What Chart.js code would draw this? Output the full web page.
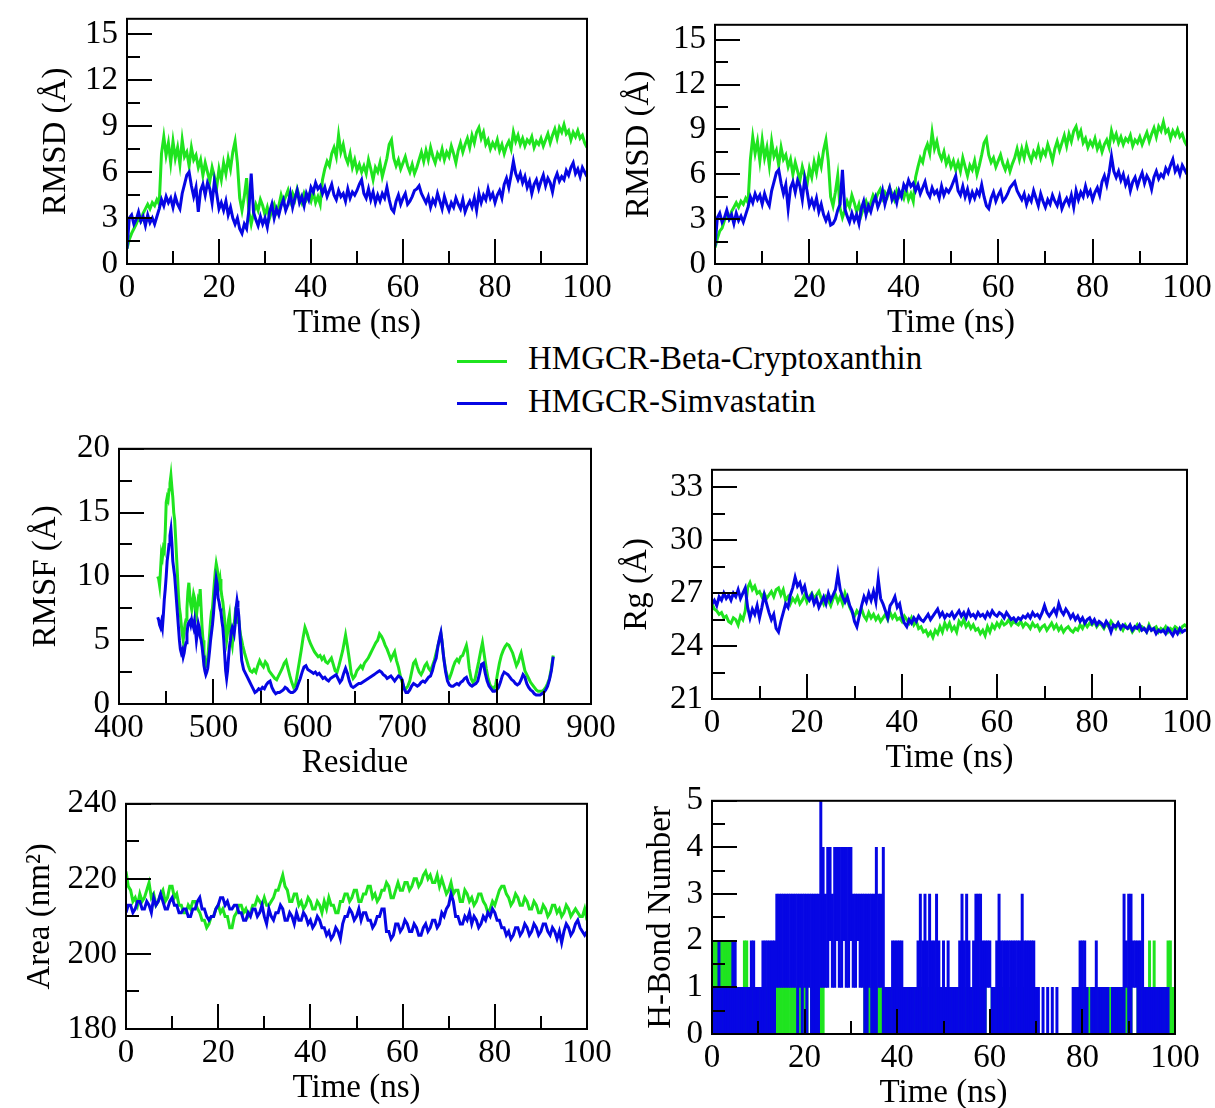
<!DOCTYPE html>
<html><head><meta charset="utf-8">
<script src="https://cdn.jsdelivr.net/npm/chart.js@4/dist/chart.umd.min.js"></script>
<style>
html,body{margin:0;padding:0;background:#fff;}
#wrap{position:relative;width:1215px;height:1108px;overflow:hidden;background:#fff;font-family:'Liberation Serif','Times New Roman',serif;}
canvas{position:absolute;}
.leg{position:absolute;font-size:33px;line-height:33px;color:#000;white-space:nowrap;}
.sw{position:absolute;height:3px;width:50px;}
</style></head>
<body><div id="wrap">
<div class="sw" style="left:457px;top:360px;background:#1fe41f"></div>
<div class="leg" style="left:528px;top:342px">HMGCR-Beta-Cryptoxanthin</div>
<div class="sw" style="left:457px;top:402px;background:#0606e4"></div>
<div class="leg" style="left:528px;top:385px">HMGCR-Simvastatin</div>
</div>
<script>
// ---------- data ----------
const seriesNames = ['HMGCR-Beta-Cryptoxanthin', 'HMGCR-Simvastatin'];

// time grid (ns), 0.5 ns sampling
const timeNs = Array.from({length: 201}, (_, i) => i * 0.5);

const rmsd1Green = [
1.0,1.6,2.0,2.3,2.6,3.0,2.8,3.3,3.6,3.9,
3.6,4.0,3.8,4.2,3.9,7.2,8.3,7.1,7.9,6.6,
8.0,6.9,7.6,6.5,8.1,7.0,7.3,6.4,7.6,6.8,
7.1,6.3,6.8,5.8,6.6,6.0,5.4,6.3,5.7,5.0,
6.2,5.5,6.6,5.9,6.9,6.2,7.3,8.0,6.6,4.3,
3.5,4.4,5.6,3.4,2.6,3.3,3.9,3.5,4.2,3.8,
3.2,3.7,3.0,3.5,3.9,3.4,3.8,4.5,4.0,4.4,
4.8,4.1,4.6,4.2,4.9,4.4,4.0,4.6,4.2,4.5,
4.1,4.7,4.0,4.4,3.9,5.5,6.2,6.7,6.4,7.2,
7.6,7.0,8.4,7.3,7.8,7.0,6.6,7.2,6.3,6.8,
6.1,6.5,6.0,6.4,5.9,6.8,6.2,5.5,6.3,6.0,
6.6,5.7,6.3,6.9,7.8,8.1,6.9,6.4,6.8,6.2,
6.6,7.0,6.4,6.0,6.5,5.9,6.3,6.8,7.3,6.7,
7.4,6.8,7.6,7.0,6.6,7.2,6.9,7.5,6.8,7.3,
7.0,7.7,7.2,6.6,7.4,7.9,7.3,7.8,8.2,7.6,
8.4,7.9,8.6,8.9,8.2,8.6,7.8,8.1,7.5,7.9,
7.6,8.1,7.4,7.8,7.2,7.7,8.0,7.5,8.6,8.0,
8.4,7.8,8.2,7.7,8.1,7.9,8.3,7.6,8.0,7.8,
8.2,7.7,8.1,8.5,7.9,8.4,8.8,8.2,8.9,8.6,
9.1,8.5,8.7,8.1,8.6,8.3,8.7,8.2,8.4,7.9,
7.6];
const rmsd1Blue = [
1.0,3.0,3.2,2.6,2.9,3.4,2.8,3.1,2.5,3.2,
2.7,3.0,2.6,3.1,3.6,4.2,3.8,4.4,4.0,4.3,
3.7,4.4,3.9,3.6,4.6,5.2,5.8,6.0,5.1,4.4,
5.0,3.4,4.8,5.2,4.5,5.3,4.9,4.0,5.4,4.6,
3.6,4.0,3.5,4.1,3.2,3.7,3.0,2.6,3.0,2.3,
2.0,2.6,2.3,3.5,5.9,3.4,2.9,2.5,3.1,2.6,
3.0,2.4,3.4,3.9,3.0,3.6,3.2,3.8,4.2,3.5,
3.9,4.6,3.7,4.3,4.8,4.0,4.4,3.8,4.6,4.2,
5.0,4.7,5.3,4.9,5.1,4.6,5.0,4.4,4.8,5.2,
4.5,4.2,4.8,4.4,4.6,4.1,4.9,4.3,4.7,4.5,
4.8,5.2,5.5,4.6,4.3,4.9,4.2,4.7,4.0,4.5,
4.1,4.6,4.3,5.0,4.2,3.6,3.4,4.1,4.5,3.9,
4.3,4.6,3.9,4.1,4.4,4.8,4.9,5.1,4.6,4.3,
4.0,4.4,3.7,4.2,3.9,4.6,4.1,3.6,4.4,3.9,
3.5,4.0,3.7,4.3,3.9,3.6,4.2,3.4,3.8,4.1,
3.7,4.3,3.5,4.6,4.0,4.5,4.2,4.9,4.3,4.6,
4.0,4.5,4.8,4.3,5.2,5.6,5.0,5.8,6.7,5.9,
5.5,5.9,5.3,5.7,5.0,5.4,4.6,5.2,5.5,4.9,
5.4,5.8,5.1,5.6,5.3,4.7,5.5,5.9,5.4,5.7,
5.5,6.1,5.8,6.3,6.6,5.9,6.2,5.7,6.3,6.0,
5.7];
const rmsd2Green = [
1.1,1.7,2.2,2.4,2.9,3.2,3.0,3.5,3.8,4.1,
3.8,4.2,4.0,4.4,4.1,7.0,8.5,7.4,8.2,6.9,
8.3,7.1,7.8,6.6,8.2,7.2,7.6,6.6,7.8,7.0,
7.3,6.5,7.0,6.0,6.8,6.2,5.6,6.5,5.9,5.3,
6.4,5.8,6.8,6.1,7.1,6.5,7.6,8.3,6.9,4.5,
3.9,4.8,5.9,3.7,3.1,3.6,4.2,3.8,4.6,4.1,
3.5,4.0,3.3,3.8,4.2,3.7,4.1,4.6,4.3,4.7,
5.0,4.4,4.8,4.5,5.1,4.7,4.3,4.9,4.5,4.8,
4.4,5.0,4.3,4.7,4.2,5.8,6.5,7.1,6.8,7.6,
8.0,7.4,8.8,7.7,8.2,7.4,7.0,7.5,6.7,7.1,
6.5,6.9,6.3,6.8,6.2,7.1,6.5,5.9,6.6,6.3,
6.9,6.0,6.6,7.3,8.1,8.4,7.3,6.8,7.1,6.5,
6.9,7.3,6.7,6.3,6.8,6.2,6.7,7.1,7.7,7.0,
7.7,7.1,7.9,7.3,6.9,7.5,7.2,7.8,7.1,7.6,
7.3,8.0,7.5,6.9,7.7,8.2,7.6,8.1,8.6,7.9,
8.7,8.2,8.9,9.2,8.5,8.9,8.1,8.4,7.8,8.2,
7.9,8.4,7.7,8.1,7.5,8.0,8.3,7.8,8.9,8.3,
8.7,8.1,8.5,8.0,8.4,8.2,8.6,7.9,8.3,8.1,
8.5,8.0,8.4,8.8,8.2,8.7,9.1,8.5,9.2,8.9,
9.5,8.8,9.0,8.4,8.9,8.6,9.0,8.5,8.7,8.2,
7.9];
const rmsd2Blue = [
1.2,3.1,3.4,2.8,3.1,3.6,3.0,3.3,2.7,3.4,
2.9,3.2,2.8,3.3,3.8,4.5,4.1,4.7,4.3,4.6,
4.0,4.7,4.2,3.9,4.9,5.5,6.1,6.3,5.4,4.7,
5.3,3.7,5.1,5.5,4.8,5.6,5.2,4.3,5.7,4.9,
3.9,4.3,3.8,4.4,3.5,4.0,3.3,2.9,3.3,2.6,
2.7,3.0,3.6,4.0,6.3,3.7,3.2,2.8,3.4,2.9,
3.3,2.7,3.7,4.2,3.3,3.9,3.5,4.1,4.5,3.8,
4.2,4.9,4.0,4.6,5.1,4.3,4.7,4.1,4.9,4.5,
5.3,5.0,5.6,5.2,5.4,4.9,5.3,4.7,5.1,5.5,
4.8,4.5,5.1,4.7,4.9,4.4,5.2,4.6,5.0,4.8,
5.1,5.5,5.9,4.9,4.6,5.2,4.5,5.0,4.3,4.8,
4.4,4.9,4.6,5.3,4.5,3.9,3.7,4.4,4.8,4.2,
4.6,4.9,4.2,4.4,4.7,5.1,5.3,5.5,4.9,4.6,
4.3,4.7,4.0,4.5,4.2,4.9,4.4,3.9,4.7,4.2,
3.8,4.3,4.0,4.6,4.2,3.9,4.5,3.7,4.1,4.4,
4.0,4.6,3.8,4.9,4.3,4.8,4.5,5.2,4.6,4.9,
4.3,4.8,5.1,4.6,5.5,5.9,5.3,6.1,7.2,6.2,
5.8,6.2,5.6,6.0,5.3,5.7,4.9,5.5,5.8,5.2,
5.7,6.1,5.4,5.9,5.6,5.0,5.8,6.2,5.7,6.0,
5.8,6.4,6.1,6.6,7.0,6.2,6.5,6.0,6.6,6.3,
6.0];

// RMSF: [residue, value]
const rmsfGreen = [
[441,10.0],[442,9.8],[443,9.3],[444,10.5],[445,11.8],[446,11.5],[447,12.2],[448,12.0],[449,13.5],[450,15.8],
[451,16.2],[452,16.0],[453,16.8],[454,17.3],[455,17.9],[456,17.0],[457,16.2],[458,15.0],[459,14.4],[460,13.0],
[461,11.5],[462,10.0],[463,8.5],[464,7.5],[465,7.0],[466,6.2],[467,5.5],[468,5.0],[469,5.6],[470,6.3],
[471,6.6],[472,7.5],[473,8.8],[474,9.5],[475,8.5],[476,7.8],[477,7.4],[478,8.0],[479,8.6],[480,8.3],
[481,7.2],[482,6.9],[483,7.6],[484,8.2],[485,8.0],[486,9.0],[487,7.5],[488,6.0],[489,5.0],[490,4.0],
[491,3.3],[492,3.0],[493,3.2],[494,3.6],[495,4.5],[496,5.5],[497,6.5],[498,7.2],[499,7.5],[500,8.5],
[501,9.5],[502,10.4],[503,11.0],[504,10.6],[505,10.0],[506,9.4],[507,9.8],[508,9.0],[509,8.4],[510,8.0],
[511,7.3],[512,6.5],[513,5.6],[514,5.0],[515,5.6],[516,6.6],[517,7.0],[518,6.0],[519,5.0],[520,4.6],
[521,5.4],[522,6.2],[523,7.0],[524,6.7],[525,6.4],[526,6.8],[527,6.5],[528,5.8],[529,5.3],[530,5.0],
[531,4.6],[533,4.0],[535,3.5],[537,3.0],[539,2.6],[541,2.5],[543,2.7],[545,2.5],[547,3.0],[549,3.4],
[551,3.1],[553,2.9],[555,3.3],[557,3.1],[559,2.6],[561,2.4],[563,2.2],[565,2.0],[567,1.9],[569,2.2],
[571,2.5],[573,2.8],[575,3.2],[577,3.4],[579,2.8],[581,2.2],[583,1.7],[585,1.3],[587,1.5],[589,2.4],
[591,3.3],[593,4.2],[595,5.2],[597,6.0],[599,5.6],[601,5.1],[603,4.7],[605,4.4],[607,4.1],[609,3.9],
[611,3.7],[613,3.8],[615,3.5],[617,3.7],[619,3.3],[621,3.2],[623,3.4],[625,3.6],[627,3.1],[629,2.6],
[631,2.5],[633,3.0],[635,3.6],[637,4.2],[639,5.0],[640,5.4],[642,4.5],[644,3.5],[646,2.4],[648,2.0],
[650,2.2],[652,2.6],[654,2.8],[656,3.0],[658,2.8],[660,3.2],[662,3.4],[664,3.6],[666,3.9],[668,4.2],
[670,4.5],[672,4.8],[674,5.0],[676,5.5],[678,5.3],[680,5.0],[682,4.6],[684,4.3],[686,3.9],[688,3.5],
[690,3.8],[692,4.1],[694,3.4],[696,2.9],[698,2.2],[700,1.7],[702,1.3],[704,1.2],[706,1.4],[708,1.8],
[710,2.5],[712,3.2],[714,3.4],[716,2.9],[718,2.5],[720,2.3],[722,2.6],[724,3.0],[726,3.2],[728,2.8],
[730,2.6],[732,3.0],[734,3.4],[736,4.0],[738,4.6],[740,5.2],[741,5.5],[742,5.0],[744,3.6],[746,2.7],
[748,2.1],[750,2.0],[752,2.4],[754,2.9],[756,3.3],[758,3.5],[760,3.3],[762,3.7],[764,3.8],[766,4.2],
[768,4.6],[769,4.2],[771,2.8],[773,2.0],[775,1.7],[777,1.9],[779,2.6],[781,3.3],[783,4.1],[785,4.8],
[787,3.8],[789,2.8],[791,2.0],[793,1.5],[795,1.3],[797,1.2],[799,1.5],[801,2.4],[803,3.2],[805,3.8],
[807,4.2],[809,4.5],[811,4.7],[813,4.6],[815,4.3],[817,4.0],[819,3.5],[821,3.0],[823,3.3],[825,3.8],
[826,4.0],[828,3.3],[830,2.6],[832,2.3],[834,2.0],[836,1.7],[838,1.5],[840,1.3],[842,1.1],[844,1.0],
[846,1.0],[848,1.0],[850,1.1],[852,1.3],[854,1.6],[856,2.0],[858,2.8],[860,3.8]];
const rmsfBlue = [
[441,6.8],[442,6.6],[443,6.2],[444,6.0],[445,6.4],[446,6.0],[447,7.0],[448,8.2],[449,9.0],[450,10.0],
[451,11.2],[452,11.8],[453,12.5],[454,13.2],[455,13.7],[456,12.6],[457,11.2],[458,10.6],[459,10.0],[460,9.0],
[461,8.0],[462,7.0],[463,6.0],[464,5.0],[465,4.3],[466,4.0],[467,4.2],[468,3.7],[469,4.0],[470,4.5],
[471,4.8],[472,5.5],[473,6.2],[474,6.4],[475,6.5],[476,6.2],[477,6.6],[478,6.3],[479,6.0],[480,6.5],
[481,5.8],[482,5.0],[483,5.6],[484,6.3],[485,6.0],[486,5.3],[487,5.0],[488,4.5],[489,3.8],[490,3.0],
[491,2.6],[492,2.3],[493,2.5],[494,2.8],[495,3.5],[496,4.2],[497,5.0],[498,5.6],[499,6.2],[500,7.0],
[501,8.0],[502,9.0],[503,9.8],[504,9.4],[505,8.3],[506,8.0],[507,7.5],[508,7.2],[509,6.5],[510,6.0],
[511,5.0],[512,3.8],[513,2.6],[514,2.0],[515,2.6],[516,3.6],[517,4.5],[518,5.0],[519,5.7],[520,6.0],
[521,5.8],[522,5.5],[523,6.2],[524,7.5],[525,8.1],[526,7.6],[527,6.8],[528,5.5],[529,4.5],[530,3.4],
[532,2.7],[534,2.4],[536,2.1],[538,1.8],[540,1.5],[542,1.2],[544,0.9],[546,1.0],[548,1.2],[550,1.1],
[552,1.3],[554,1.2],[556,1.5],[558,1.7],[560,1.8],[562,1.3],[564,1.0],[566,0.8],[568,0.9],[570,0.9],
[572,1.0],[574,1.1],[576,1.3],[578,1.2],[580,1.0],[582,0.9],[584,0.9],[586,1.0],[588,1.2],[590,1.6],
[592,2.0],[594,2.5],[596,2.9],[598,3.0],[600,2.7],[602,2.6],[604,2.5],[606,2.4],[608,2.5],[610,2.3],
[612,2.4],[614,2.2],[616,2.0],[618,2.1],[620,1.9],[622,1.8],[624,2.0],[626,2.1],[628,2.2],[630,2.3],
[632,2.0],[634,1.7],[636,1.9],[638,2.4],[640,2.8],[642,2.4],[644,1.8],[646,1.4],[648,1.3],[650,1.4],
[652,1.5],[654,1.6],[656,1.6],[658,1.7],[660,1.8],[662,1.9],[664,2.0],[666,2.1],[668,2.2],[670,2.3],
[672,2.4],[674,2.5],[676,2.6],[678,2.5],[680,2.3],[682,2.2],[684,2.0],[686,2.1],[688,2.2],[690,2.0],
[692,1.8],[694,2.0],[696,2.2],[698,2.1],[700,1.9],[702,1.2],[704,0.9],[706,0.9],[708,1.1],[710,1.4],
[712,1.6],[714,1.5],[716,1.4],[718,1.5],[720,1.7],[722,1.8],[724,1.7],[726,1.9],[728,2.1],[730,2.2],
[732,2.6],[734,3.2],[736,3.6],[738,4.6],[740,5.3],[741,5.6],[742,5.0],[744,3.6],[746,2.5],[748,1.8],
[750,1.5],[752,1.4],[754,1.4],[756,1.5],[758,1.6],[760,1.5],[762,1.7],[764,1.8],[766,2.0],[768,2.1],
[770,1.7],[772,1.5],[774,1.4],[776,1.5],[778,1.6],[780,1.8],[782,2.4],[784,3.1],[786,3.2],[788,2.4],
[790,1.8],[792,1.4],[794,1.2],[796,1.0],[798,1.0],[800,1.1],[802,1.3],[804,1.7],[806,2.2],[808,2.5],
[810,2.4],[812,2.3],[814,2.1],[816,1.9],[818,1.8],[820,1.6],[822,1.5],[824,1.6],[826,1.9],[828,2.3],
[830,2.1],[832,1.6],[834,1.3],[836,1.1],[838,1.0],[840,0.8],[842,0.7],[844,0.7],[846,0.7],[848,0.8],
[850,0.9],[852,1.1],[854,1.4],[856,1.9],[858,2.6],[860,3.7]];

const rgGreen = [
26.4,26.1,26.0,25.8,25.9,25.6,25.7,25.4,25.3,25.6,
25.5,25.2,25.7,25.5,26.0,27.3,27.6,27.2,27.4,27.0,
27.1,26.8,27.0,26.7,26.9,27.1,26.8,27.2,27.3,26.9,
27.2,26.6,26.8,26.4,26.7,26.5,26.8,26.4,26.6,26.9,
26.5,26.8,27.0,26.7,26.9,27.1,26.7,26.4,26.8,26.6,
26.3,26.7,26.9,26.5,26.8,26.4,27.0,26.6,26.2,25.9,
25.7,26.0,25.8,26.1,25.7,25.5,25.9,25.6,25.8,25.5,
25.7,25.4,25.6,25.8,25.5,25.9,25.6,25.8,25.5,25.6,
25.4,25.7,25.5,25.3,25.6,25.2,25.4,25.0,25.1,24.8,
24.9,24.6,24.8,24.5,24.9,24.7,25.1,24.8,25.3,25.0,
25.3,24.9,25.1,24.8,25.4,25.2,25.5,25.1,25.3,25.0,
25.2,24.9,25.0,24.7,24.9,24.6,25.1,24.8,25.2,25.0,
25.3,25.1,25.4,25.2,25.3,25.5,25.2,25.4,25.3,25.2,
25.4,25.1,25.3,25.2,25.0,25.3,25.1,25.2,24.9,25.1,
25.2,24.9,25.1,25.3,25.0,25.2,24.9,25.1,24.8,25.0,
25.1,24.9,24.8,25.0,24.9,25.2,25.0,25.3,25.1,25.3,
25.2,25.4,25.1,25.3,25.2,25.0,25.3,25.1,25.4,25.2,
25.0,25.3,25.1,24.9,25.2,25.0,25.1,24.8,25.0,25.2,
24.9,25.1,25.0,24.8,25.2,24.9,25.0,25.1,24.8,25.0,
24.9,25.1,24.8,25.0,24.9,25.1,25.0,24.8,25.1,25.2,
25.1];
const rgBlue = [
26.4,26.6,26.3,26.8,26.6,27.0,26.7,26.9,26.6,27.0,
26.8,27.2,26.7,27.0,27.3,26.2,25.6,26.1,25.8,26.3,
25.6,26.2,26.9,26.4,25.9,25.5,25.8,25.0,24.8,25.4,
25.9,26.4,26.2,26.9,27.3,27.9,27.4,27.6,27.1,27.4,
26.8,26.6,26.9,26.4,26.7,26.2,26.5,26.8,26.4,27.0,
26.6,26.9,27.2,28.1,27.2,26.8,26.5,26.8,26.3,26.0,
25.4,25.1,25.7,26.3,26.8,26.5,27.0,26.6,27.1,26.5,
27.8,26.7,26.4,26.0,25.6,26.3,26.5,26.8,26.2,26.4,
25.7,25.3,25.1,25.5,25.3,25.6,25.4,25.7,25.5,25.4,
25.6,25.8,25.5,25.7,25.9,26.1,25.7,25.9,25.6,25.8,
25.7,25.9,25.6,25.8,26.0,25.7,25.9,25.6,26.0,25.7,
25.8,25.6,25.9,25.7,25.8,25.6,25.9,25.7,26.0,25.8,
25.7,25.9,25.8,25.6,25.9,25.7,25.5,25.6,25.4,25.6,
25.5,25.7,25.6,25.8,25.6,25.9,25.7,25.8,25.6,25.9,
26.3,25.9,25.7,25.9,26.1,25.8,26.4,26.0,25.8,26.1,
25.9,25.6,25.8,25.5,25.7,25.4,25.6,25.3,25.5,25.6,
25.3,25.5,25.2,25.4,25.3,25.1,25.4,25.2,24.8,25.2,
25.1,25.3,25.0,25.2,25.1,25.0,25.2,24.9,25.1,25.0,
25.2,24.9,25.0,24.8,25.1,24.9,25.0,24.7,24.9,24.8,
24.9,24.7,25.0,24.8,24.6,24.9,24.7,25.0,24.8,24.9,
24.9];

const areaGreen = [
222,218,217,214,215,213,216,214,215,217,
219,215,216,213,214,216,217,214,215,218,
218,215,216,213,213,211,211,213,212,214,
214,212,211,209,209,207,208,210,210,212,
213,211,212,210,210,207,207,210,211,213,
213,211,212,210,211,213,213,215,214,213,
215,213,213,214,215,217,217,219,221,218,
217,214,214,216,216,213,214,212,213,215,
214,212,212,214,213,211,214,212,215,213,
213,211,211,214,214,216,216,214,215,217,
217,214,214,216,216,218,218,215,216,214,
215,217,217,219,218,215,215,217,219,217,
217,219,219,217,218,220,220,218,219,221,
222,220,221,219,219,221,218,220,218,216,
217,219,216,217,217,214,214,217,216,214,
215,213,214,216,216,214,213,211,212,214,
213,215,217,218,218,216,215,213,214,216,
215,213,213,215,214,212,212,214,213,211,
211,213,212,210,211,213,213,211,212,210,
211,213,212,210,211,212,211,210,210,212,
209];
const areaBlue = [
211,213,213,211,212,214,214,212,212,214,
213,211,215,213,214,216,214,212,212,214,
215,213,213,211,211,212,212,210,210,212,
212,214,215,212,212,210,209,210,210,212,
213,215,215,213,214,212,212,213,213,211,
211,209,209,211,210,212,212,210,211,213,
210,208,212,210,209,211,211,213,212,209,
209,211,210,208,211,209,209,211,210,208,
209,207,208,210,209,207,207,205,206,204,
205,207,206,204,208,210,210,212,211,209,
210,212,209,211,211,209,209,207,208,210,
210,212,212,206,206,204,205,208,208,206,
207,209,208,206,206,208,207,205,205,207,
208,206,207,209,209,207,208,211,210,212,
213,216,214,210,210,208,208,210,209,211,
208,210,209,207,208,210,209,211,210,212,
211,209,209,207,207,205,206,204,205,207,
207,205,206,208,207,205,206,208,207,205,
206,208,208,206,205,207,206,204,206,203,
206,208,207,205,206,208,209,207,206,205,
206];

// H-bond counts per 0.5 ns bin: range [low, high] reached within the bin
const hbBlueLow = [
0,0,0,0,0,0,0,0,0,0,
0,0,0,0,0,0,0,0,0,0,
0,0,0,0,0,0,0,0,1,1,
1,1,1,1,1,1,1,0,1,0,
1,0,1,0,0,0,0,1,1,1,
1,2,1,1,2,1,1,2,1,1,
2,1,1,2,1,1,0,0,1,0,
0,0,1,1,0,0,0,0,0,0,
0,0,0,0,0,0,0,0,0,0,
0,0,0,0,0,0,0,0,0,0,
0,0,0,0,0,0,0,0,0,0,
0,0,0,0,0,0,0,0,0,1,
1,0,0,0,0,0,0,0,0,0,
0,0,0,0,0,0,0,0,0,0,
0,0,0,0,0,0,0,0,0,0,
0,0,0,0,0,0,0,0,0,0,
0,0,0,0,0,0,0,0,0,0,
0,0,0,0,0,0,0,0,0,1,
0,0,1,1,0,0,0,0,0,0,
0,0,0,0,0,0,0,0,0,0,
0];
const hbBlueHigh = [
1,1,1,2,1,1,1,1,1,2,
2,1,1,1,1,1,1,2,2,1,
1,1,2,2,2,2,2,2,3,3,
3,3,3,3,3,3,3,3,3,3,
3,3,3,3,3,3,3,5,4,3,
4,4,3,4,4,4,4,4,4,4,
4,3,3,3,3,3,3,3,3,3,
3,4,3,3,4,1,1,1,2,2,
2,2,2,1,1,1,1,1,1,2,
3,2,3,2,3,2,2,3,2,1,
2,1,2,1,1,1,1,2,3,2,
3,2,1,2,3,3,3,2,2,2,
2,1,1,2,3,2,2,2,2,2,
2,2,2,2,3,2,2,2,2,2,
1,1,0,1,0,1,0,1,0,1,
0,0,0,0,0,0,1,1,1,2,
2,2,1,0,1,1,2,1,1,1,
1,1,0,1,1,1,1,1,3,2,
3,3,2,2,2,2,3,1,1,1,
1,1,1,1,1,1,1,1,0,0,
0];
const hbGreen = [
2,2,2,2,2,2,2,2,2,2,
1,1,1,1,2,2,1,1,1,1,
1,1,1,1,1,1,1,1,1,1,
1,1,1,1,1,1,1,1,1,1,
1,1,0,1,1,1,1,1,1,0,
0,0,0,0,0,0,0,0,0,0,
0,0,0,0,0,0,1,1,1,1,
1,1,1,1,1,1,1,1,1,1,
1,1,1,1,1,1,1,1,1,1,
1,1,1,1,1,1,1,1,1,1,
1,1,1,1,1,1,1,1,1,1,
1,1,1,1,1,1,1,1,1,0,
0,1,1,1,1,1,1,1,1,1,
1,1,1,1,1,1,1,1,1,1,
1,0,0,0,0,0,0,0,0,0,
0,0,0,0,0,0,0,0,1,1,
1,1,1,1,1,1,1,1,1,1,
1,1,1,1,1,1,1,1,1,1,
1,1,0,0,1,1,1,1,1,2,
1,2,1,1,1,1,1,2,2,1,
1];

// axis ticks
const timeTicks = [0, 20, 40, 60, 80, 100];
const timeMinor = [10, 30, 50, 70, 90];
const rmsdTicks = [0, 3, 6, 9, 12, 15];
const rmsdMinor = [1.5, 4.5, 7.5, 10.5, 13.5];
const residueTicks = [400, 500, 600, 700, 800, 900];
const residueMinor = [450, 550, 650, 750, 850];
const rmsfTicks = [0, 5, 10, 15, 20];
const rmsfMinor = [2.5, 7.5, 12.5, 17.5];
const rgTicks = [21, 24, 27, 30, 33];
const rgMinor = [22.5, 25.5, 28.5, 31.5];
const areaTicks = [180, 200, 220, 240];
const areaMinor = [190, 210, 230];
const hbTicks = [0, 1, 2, 3, 4, 5];
const hbMinor = [0.5, 1.5, 2.5, 3.5, 4.5];

// ---------- drawing ----------
const FONT = "'Liberation Serif','Times New Roman',serif";
Chart.defaults.font.family = FONT;
Chart.defaults.font.size = 33;
Chart.defaults.color = '#000';
const GREEN = '#1fe41f', BLUE = '#0606e4';

const pts = (xs, ys) => xs.map((x, i) => ({x: x, y: ys[i]}));
const pairPts = arr => arr.map(p => ({x: p[0], y: p[1]}));

const inwardTicks = {
  id: 'inwardTicks',
  afterDatasetsDraw(chart, args, o) {
    const {ctx, chartArea: a, scales: {x, y}} = chart;
    ctx.save();
    ctx.strokeStyle = '#000';
    ctx.lineWidth = 2;
    ctx.beginPath();
    const xt = (vals, len) => vals.forEach(v => { const p = Math.round(x.getPixelForValue(v)); ctx.moveTo(p, a.bottom); ctx.lineTo(p, a.bottom - len); });
    const yt = (vals, len) => vals.forEach(v => { const p = Math.round(y.getPixelForValue(v)); ctx.moveTo(a.left, p); ctx.lineTo(a.left + len, p); });
    xt(o.xMajor, 25); xt(o.xMinor, 13); yt(o.yMajor, 25); yt(o.yMinor, 13);
    ctx.stroke();
    ctx.strokeRect(a.left, a.top, a.right - a.left, a.bottom - a.top);
    ctx.restore();
  }
};

function makePanel(o) {
  const PADL = 115, PADT = 24, PADR = 42, XH = 80;
  const c = document.createElement('canvas');
  const w = (o.R - o.L) + PADL + PADR, h = (o.B - o.T) + PADT + XH;
  c.width = w; c.height = h;
  c.style.left = (o.L - PADL) + 'px'; c.style.top = (o.T - PADT) + 'px';
  c.style.width = w + 'px'; c.style.height = h + 'px';
  document.getElementById('wrap').appendChild(c);
  new Chart(c, {
    type: o.type || 'line',
    data: {datasets: o.datasets},
    options: {
      responsive: false, animation: false, devicePixelRatio: 1,
      layout: {padding: {left: 0, top: PADT, right: PADR, bottom: 0}},
      plugins: {legend: {display: false}, tooltip: {enabled: false},
        inwardTicks: {xMajor: o.xTicks, xMinor: o.xMinor, yMajor: o.yTicks, yMinor: o.yMinor}},
      scales: {
        x: {type: 'linear', min: o.xMin, max: o.xMax, offset: false,
          grid: {display: false, drawTicks: false}, border: {display: false},
          afterBuildTicks: s => { s.ticks = o.xTicks.map(v => ({value: v})); },
          afterFit: s => { s.height = XH; },
          ticks: {autoSkip: false, maxRotation: 0, minRotation: 0, padding: 5},
          title: {display: true, text: o.xTitle, padding: {top: 0, bottom: 1}}},
        y: {type: 'linear', min: o.yMin, max: o.yMax,
          grid: {display: false, drawTicks: false}, border: {display: false},
          afterBuildTicks: s => { s.ticks = o.yTicks.map(v => ({value: v})); },
          afterFit: s => { s.width = PADL; },
          ticks: {autoSkip: false, padding: 9},
          title: {display: true, text: o.yTitle, padding: {top: o.yTitlePad, bottom: 0}}}
      }
    },
    plugins: [inwardTicks]
  });
}

const lineDs = (data, color, order) => ({data: data, borderColor: color, backgroundColor: color,
  borderWidth: 3, pointRadius: 0, tension: 0, fill: false, order: order});

// RMSD (left)
makePanel({L: 127, T: 14, R: 587, B: 264, xMin: 0, xMax: 100, yMin: 0, yMax: 16,
  xTicks: timeTicks, xMinor: timeMinor, yTicks: rmsdTicks, yMinor: rmsdMinor,
  xTitle: 'Time (ns)', yTitle: 'RMSD (Å)', yTitlePad: 25,
  datasets: [lineDs(pts(timeNs, rmsd1Green), GREEN, 2), lineDs(pts(timeNs, rmsd1Blue), BLUE, 1)]});
// RMSD (right)
makePanel({L: 715, T: 20, R: 1187, B: 264, xMin: 0, xMax: 100, yMin: 0, yMax: 16,
  xTicks: timeTicks, xMinor: timeMinor, yTicks: rmsdTicks, yMinor: rmsdMinor,
  xTitle: 'Time (ns)', yTitle: 'RMSD (Å)', yTitlePad: 20,
  datasets: [lineDs(pts(timeNs, rmsd2Green), GREEN, 2), lineDs(pts(timeNs, rmsd2Blue), BLUE, 1)]});
// RMSF
makePanel({L: 119, T: 444, R: 591, B: 704, xMin: 400, xMax: 900, yMin: 0, yMax: 20,
  xTicks: residueTicks, xMinor: residueMinor, yTicks: rmsfTicks, yMinor: rmsfMinor,
  xTitle: 'Residue', yTitle: 'RMSF (Å)', yTitlePad: 23,
  datasets: [lineDs(pairPts(rmsfGreen), GREEN, 2), lineDs(pairPts(rmsfBlue), BLUE, 1)]});
// Rg
makePanel({L: 712, T: 465, R: 1187, B: 699, xMin: 0, xMax: 100, yMin: 21, yMax: 34,
  xTicks: timeTicks, xMinor: timeMinor, yTicks: rgTicks, yMinor: rgMinor,
  xTitle: 'Time (ns)', yTitle: 'Rg (Å)', yTitlePad: 21,
  datasets: [lineDs(pts(timeNs, rgGreen), GREEN, 2), lineDs(pts(timeNs, rgBlue), BLUE, 1)]});
// Area
makePanel({L: 126, T: 799, R: 587, B: 1029, xMin: 0, xMax: 100, yMin: 180, yMax: 240,
  xTicks: timeTicks, xMinor: timeMinor, yTicks: areaTicks, yMinor: areaMinor,
  xTitle: 'Time (ns)', yTitle: 'Area (nm²)', yTitlePad: 10,
  datasets: [lineDs(pts(timeNs, areaGreen), GREEN, 2), lineDs(pts(timeNs, areaBlue), BLUE, 1)]});
// H-bond
const barDs = (data, color, order) => ({data: data, backgroundColor: color, borderWidth: 0,
  grouped: false, categoryPercentage: 1, barPercentage: 1, order: order});
makePanel({type: 'bar', L: 712, T: 796, R: 1175, B: 1034, xMin: 0, xMax: 100, yMin: 0, yMax: 5,
  xTicks: timeTicks, xMinor: timeMinor, yTicks: hbTicks, yMinor: hbMinor,
  xTitle: 'Time (ns)', yTitle: 'H-Bond Number', yTitlePad: 45,
  datasets: [
    barDs(pts(timeNs, hbGreen), GREEN, 2),
    barDs(timeNs.map((t, i) => ({x: t, y: [hbBlueLow[i], hbBlueHigh[i]]})), BLUE, 1)
  ]});
</script>
</body></html>
